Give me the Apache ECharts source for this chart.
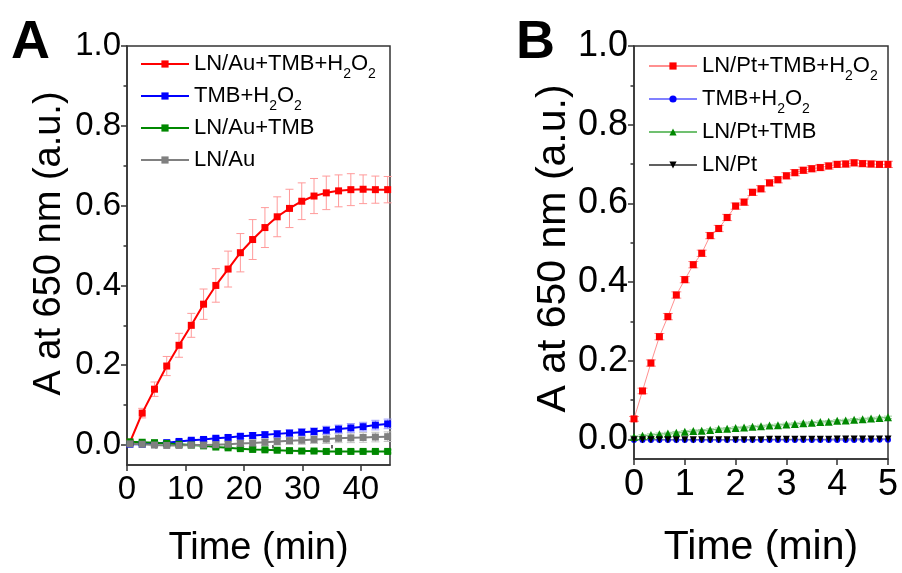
<!DOCTYPE html>
<html>
<head>
<meta charset="utf-8">
<script src="https://cdn.jsdelivr.net/npm/echarts@6/dist/echarts.min.js"></script>
<style>html,body{margin:0;padding:0;background:#fff;}#c{width:902px;height:573px;}</style>
</head>
<body>
<div id="c"></div>
<script>
// ---------- Panel A data (time in min) ----------
const timeA = [0.5, 2.6, 4.7, 6.8, 8.9, 11.0, 13.1, 15.2, 17.3, 19.4, 21.5, 23.6, 25.7, 27.8, 29.9, 32.0, 34.1, 36.2, 38.3, 40.4, 42.5, 44.6];
const redA = [0.007, 0.080, 0.140, 0.198, 0.250, 0.300, 0.353, 0.400, 0.441, 0.482, 0.515, 0.545, 0.572, 0.593, 0.611, 0.624, 0.632, 0.637, 0.640, 0.641, 0.640, 0.640];
const redErrA = [0.005, 0.012, 0.018, 0.024, 0.030, 0.030, 0.038, 0.042, 0.045, 0.048, 0.050, 0.050, 0.050, 0.048, 0.046, 0.044, 0.042, 0.040, 0.040, 0.036, 0.034, 0.033];
const blueA = [0.002, 0.002, 0.004, 0.006, 0.009, 0.012, 0.014, 0.017, 0.019, 0.022, 0.024, 0.026, 0.028, 0.030, 0.032, 0.034, 0.037, 0.040, 0.043, 0.046, 0.050, 0.053];
const blueErrA = [0.002, 0.002, 0.003, 0.003, 0.004, 0.004, 0.005, 0.005, 0.006, 0.006, 0.007, 0.007, 0.008, 0.008, 0.009, 0.009, 0.010, 0.010, 0.011, 0.011, 0.012, 0.012];
const greenA = [0.008, 0.007, 0.006, 0.004, 0.002, 0.000, -0.002, -0.005, -0.007, -0.009, -0.011, -0.012, -0.013, -0.014, -0.015, -0.015, -0.016, -0.016, -0.016, -0.016, -0.016, -0.016];
const greenErrA = [0.003, 0.003, 0.003, 0.003, 0.003, 0.003, 0.003, 0.003, 0.004, 0.004, 0.004, 0.004, 0.004, 0.004, 0.004, 0.004, 0.004, 0.004, 0.004, 0.004, 0.004, 0.004];
const grayA = [0.003, 0.002, 0.000, -0.001, -0.001, 0.000, 0.000, 0.001, 0.002, 0.004, 0.005, 0.007, 0.009, 0.011, 0.012, 0.014, 0.015, 0.017, 0.018, 0.019, 0.020, 0.021];
const grayErrA = [0.003, 0.003, 0.004, 0.004, 0.005, 0.005, 0.006, 0.006, 0.007, 0.007, 0.008, 0.008, 0.009, 0.009, 0.010, 0.010, 0.011, 0.011, 0.012, 0.012, 0.012, 0.012];

// ---------- Panel B data (time in min) ----------
const timeB = [0, 0.167, 0.333, 0.5, 0.667, 0.833, 1.0, 1.167, 1.333, 1.5, 1.667, 1.833, 2.0, 2.167, 2.333, 2.5, 2.667, 2.833, 3.0, 3.167, 3.333, 3.5, 3.667, 3.833, 4.0, 4.167, 4.333, 4.5, 4.667, 4.833, 5.0];
const redB = [0.052, 0.123, 0.194, 0.261, 0.312, 0.367, 0.406, 0.444, 0.473, 0.518, 0.536, 0.564, 0.593, 0.603, 0.628, 0.637, 0.652, 0.660, 0.670, 0.678, 0.684, 0.688, 0.691, 0.695, 0.699, 0.700, 0.703, 0.701, 0.700, 0.699, 0.699];
const redErrB = [0.006, 0.007, 0.008, 0.008, 0.008, 0.008, 0.008, 0.008, 0.008, 0.008, 0.008, 0.008, 0.008, 0.008, 0.008, 0.008, 0.008, 0.008, 0.008, 0.008, 0.008, 0.008, 0.008, 0.008, 0.008, 0.008, 0.008, 0.008, 0.008, 0.008, 0.008];
const blueB = [-0.002, -0.002, -0.002, -0.002, -0.002, -0.002, -0.002, -0.002, -0.002, -0.002, -0.002, -0.002, -0.002, -0.002, -0.002, -0.002, -0.002, -0.002, -0.002, -0.002, -0.002, -0.002, -0.002, -0.002, -0.002, -0.002, -0.002, -0.001, -0.001, -0.001, -0.001];
const greenB = [0.006, 0.009, 0.011, 0.013, 0.015, 0.017, 0.019, 0.021, 0.022, 0.024, 0.026, 0.027, 0.029, 0.030, 0.032, 0.033, 0.035, 0.036, 0.038, 0.039, 0.041, 0.042, 0.044, 0.045, 0.047, 0.048, 0.050, 0.051, 0.053, 0.054, 0.056];
const greenErrB = [0.003, 0.003, 0.003, 0.003, 0.003, 0.003, 0.003, 0.003, 0.003, 0.003, 0.003, 0.003, 0.003, 0.003, 0.003, 0.003, 0.003, 0.003, 0.003, 0.003, 0.003, 0.003, 0.003, 0.003, 0.003, 0.003, 0.003, 0.003, 0.003, 0.003, 0.003];
const blackB = [-0.001, -0.001, -0.001, -0.001, -0.001, -0.001, -0.001, -0.001, -0.001, -0.001, -0.001, -0.001, -0.001, -0.001, -0.001, -0.001, 0.000, 0.000, 0.000, 0.000, 0.000, 0.000, 0.000, 0.000, 0.001, 0.001, 0.001, 0.001, 0.001, 0.001, 0.001];

// ---------- Labels / ticks ----------
const namesA = ['LN/Au+TMB+H2O2', 'TMB+H2O2', 'LN/Au+TMB', 'LN/Au'];
const namesB = ['LN/Pt+TMB+H2O2', 'TMB+H2O2 ', 'LN/Pt+TMB', 'LN/Pt'];
const richLabels = {
  'LN/Au+TMB+H2O2': '{n|LN/Au+TMB+H}{s|2}{n|O}{s|2}',
  'TMB+H2O2': '{n|TMB+H}{s|2}{n|O}{s|2}',
  'LN/Au+TMB': '{n|LN/Au+TMB}{s| }',
  'LN/Au': '{n|LN/Au}{s| }',
  'LN/Pt+TMB+H2O2': '{n|LN/Pt+TMB+H}{s|2}{n|O}{s|2}',
  'TMB+H2O2 ': '{n|TMB+H}{s|2}{n|O}{s|2}',
  'LN/Pt+TMB': '{n|LN/Pt+TMB}{s| }',
  'LN/Pt': '{n|LN/Pt}{s| }'
};
const yTicks = [0, 0.2, 0.4, 0.6, 0.8, 1.0];
const yMinorTicks = [0.1, 0.3, 0.5, 0.7, 0.9];
const xTicksA = [0, 10, 20, 30, 40];
const xMinorTicksA = [5, 15, 25, 35];
const xTicksB = [0, 1, 2, 3, 4, 5];
const xMinorTicksB = [0.5, 1.5, 2.5, 3.5, 4.5];
const yTitle = 'A at 650 nm (a.u.)';
const xTitle = 'Time (min)';

const FONT = "'Liberation Sans', Arial, Helvetica, sans-serif";
const AXC = '#333333';

function pts(t, v) { return t.map((x, i) => [x, v[i]]); }
function errPts(t, v, e) { return t.map((x, i) => [x, v[i], e[i]]); }

function errSeries(t, v, e, color, cap, gi) {
  return {
    type: 'custom', xAxisIndex: gi * 2, yAxisIndex: gi * 2, z: 1, silent: true,
    encode: { x: 0, y: 1 },
    data: errPts(t, v, e),
    renderItem: function (params, api) {
      const x = api.value(0), y = api.value(1), er = api.value(2);
      const hi = api.coord([x, y + er]), lo = api.coord([x, y - er]);
      const st = { stroke: color, lineWidth: 1 };
      return { type: 'group', children: [
        { type: 'line', shape: { x1: hi[0], y1: hi[1], x2: lo[0], y2: lo[1] }, style: st },
        { type: 'line', shape: { x1: hi[0] - cap, y1: hi[1], x2: hi[0] + cap, y2: hi[1] }, style: st },
        { type: 'line', shape: { x1: lo[0] - cap, y1: lo[1], x2: lo[0] + cap, y2: lo[1] }, style: st }
      ]};
    }
  };
}

function lineSeries(name, t, v, color, lineColor, lw, symbol, size, gi) {
  return {
    type: 'line', name: name, xAxisIndex: gi * 2, yAxisIndex: gi * 2, z: 3,
    data: pts(t, v), symbol: symbol, symbolSize: size, showAllSymbol: true,
    itemStyle: { color: color },
    lineStyle: { color: lineColor, width: lw },
    emphasis: { disabled: true }, animation: false
  };
}

function xMain(gi, max, ticks, fs, gap) {
  return {
    type: 'value', gridIndex: gi, min: 0, max: max, position: 'bottom',
    axisLine: { show: true, onZero: false, lineStyle: { color: AXC, width: 1.5 } },
    axisTick: { show: true, inside: false, length: 6, customValues: ticks, lineStyle: { color: AXC, width: 1.5 } },
    axisLabel: { show: true, customValues: ticks, fontSize: fs, fontFamily: FONT, color: '#000', margin: 8 },
    splitLine: { show: false },
    name: xTitle, nameLocation: 'middle', nameGap: gap,
    nameTextStyle: { fontSize: fs + 5, fontFamily: FONT, color: '#000' }
  };
}
function xMinor(gi, max, ticks) {
  return {
    type: 'value', gridIndex: gi, min: 0, max: max, position: 'bottom',
    axisLine: { show: false },
    axisTick: { show: true, inside: false, length: 3.5, customValues: ticks, lineStyle: { color: AXC, width: 1.5 } },
    axisLabel: { show: false }, splitLine: { show: false }
  };
}
function yMain(gi, fs, gap, shift) {
  return {
    type: 'value', gridIndex: gi, min: -0.05, max: 1.0, position: 'left',
    axisLine: { show: true, onZero: false, lineStyle: { color: AXC, width: 1.5 } },
    axisTick: { show: true, inside: false, length: 6, customValues: yTicks, lineStyle: { color: AXC, width: 1.5 } },
    axisLabel: { show: true, customValues: yTicks, fontSize: fs, fontFamily: FONT, color: '#000', margin: 6,
      formatter: v => v.toFixed(1) },
    splitLine: { show: false },
    name: yTitle, nameLocation: 'middle', nameGap: gap,
    nameTextStyle: { fontSize: fs + 5, fontFamily: FONT, color: '#000', padding: [0, 0, 0, shift] }
  };
}
function yMinor(gi) {
  return {
    type: 'value', gridIndex: gi, min: -0.05, max: 1.0, position: 'left',
    axisLine: { show: false },
    axisTick: { show: true, inside: false, length: 3.5, customValues: yMinorTicks, lineStyle: { color: AXC, width: 1.5 } },
    axisLabel: { show: false }, splitLine: { show: false }
  };
}

function legend(names, left, top, gap) {
  return {
    orient: 'vertical', left: left, top: top, padding: 0, itemGap: gap,
    itemWidth: 48, itemHeight: 9, data: names, selectedMode: false,
    formatter: n => richLabels[n],
    textStyle: {
      color: '#000', fontFamily: FONT, fontSize: 22,
      rich: {
        n: { fontSize: 22, lineHeight: 30, fontFamily: FONT, color: '#000' },
        s: { fontSize: 14, lineHeight: 14, padding: [20, 0, 0, 0], fontFamily: FONT, color: '#000' }
      }
    }
  };
}

const chart = echarts.init(document.getElementById('c'), null, { renderer: 'canvas' });
chart.setOption({
  animation: false,
  backgroundColor: '#ffffff',
  grid: [
    { left: 127, top: 46, width: 263, height: 421, show: true, borderColor: AXC, borderWidth: 1.5, containLabel: false },
    { left: 634, top: 46, width: 254, height: 421, show: true, borderColor: AXC, borderWidth: 1.5, containLabel: false }
  ],
  xAxis: [xMain(0, 45, xTicksA, 33, 65), xMinor(0, 45, xMinorTicksA), xMain(1, 5, xTicksB, 36, 68), xMinor(1, 5, xMinorTicksB)],
  yAxis: [yMain(0, 33, 58, 24), yMinor(0), yMain(1, 36, 56, 8), yMinor(1)],
  legend: [legend(namesA, 140, 47, -2), legend(namesB, 648, 49, -1)],
  graphic: [
    { type: 'text', left: 11, top: 16, style: { text: 'A', font: 'bold 54px ' + FONT, fill: '#000' } },
    { type: 'text', left: 516, top: 16, style: { text: 'B', font: 'bold 54px ' + FONT, fill: '#000' } }
  ],
  series: [
    errSeries(timeA, grayA, grayErrA, '#c0c0c0', 4, 0),
    errSeries(timeA, greenA, greenErrA, '#90c890', 4, 0),
    errSeries(timeA, blueA, blueErrA, '#9a9aff', 4, 0),
    errSeries(timeA, redA, redErrA, '#ff9a9a', 4, 0),
    lineSeries(namesA[0], timeA, redA, '#ff0000', '#ff0000', 2, 'rect', 7, 0),
    lineSeries(namesA[1], timeA, blueA, '#0000ff', '#0000ff', 2, 'rect', 7, 0),
    lineSeries(namesA[2], timeA, greenA, '#008800', '#008800', 2, 'rect', 7, 0),
    lineSeries(namesA[3], timeA, grayA, '#808080', '#808080', 2, 'rect', 7, 0),
    errSeries(timeB, redB, redErrB, '#ff8c8c', 5, 1),
    errSeries(timeB, greenB, greenErrB, '#a0d0a0', 4, 1),
    lineSeries(namesB[0], timeB, redB, '#ff0000', '#ff9090', 1, 'rect', 7, 1),
    lineSeries(namesB[1], timeB, blueB, '#0000ff', '#8080ff', 1, 'circle', 6, 1),
    lineSeries(namesB[2], timeB, greenB, '#008800', '#70c070', 1, 'triangle', 8, 1),
    lineSeries(namesB[3], timeB, blackB, '#000000', '#606060', 1, 'path://M0,0 L10,0 L5,9 Z', 7, 1)
  ]
});
</script>
</body>
</html>
